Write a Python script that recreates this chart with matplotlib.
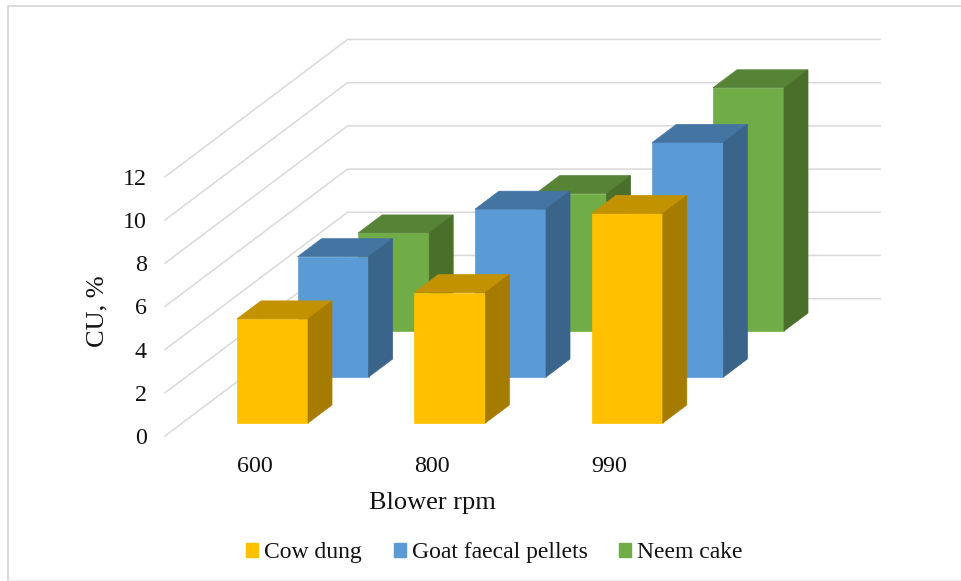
import matplotlib
matplotlib.use('Agg')
import matplotlib.pyplot as plt
from matplotlib.patches import Patch

categories = ['600', '800', '990']
series_names = ['Cow dung', 'Goat faecal pellets', 'Neem cake']
cow_dung = [4.82, 6.04, 9.70]
goat_pellets = [5.57, 7.77, 10.86]
neem_cake = [4.54, 6.36, 11.26]
y_ticks = [0, 2, 4, 6, 8, 10, 12]

front_colors = ['#FFC000', '#5B9BD5', '#70AD47']
top_colors = ['#C39200', '#4474A1', '#568336']
side_colors = ['#A57C00', '#3A6489', '#4A6F2B']
grid_color = '#D9D9D9'

plt.rcParams['font.family'] = ['Liberation Serif', 'DejaVu Serif']

# fake 3d, everything in image pixels
unit = 21.6
floor_front = (165, 436)
floor_back = (347.5, 298.7)
grid_right = 880
bar_w = 71
depth_x = 24
depth_y = 18


def bar3d(ax, x, base, val, s):
    top = base - val * unit
    ax.fill([x, x + bar_w, x + bar_w, x], [base, base, top, top], color=front_colors[s], lw=0.5, zorder=3 + s * -0.1)
    ax.fill([x, x + depth_x, x + bar_w + depth_x, x + bar_w], [top, top - depth_y, top - depth_y, top],
            color=top_colors[s], lw=0.5, zorder=3 + s * -0.1)
    ax.fill([x + bar_w, x + bar_w + depth_x, x + bar_w + depth_x, x + bar_w],
            [base, base - depth_y, top - depth_y, top], color=side_colors[s], lw=0.5, zorder=3 + s * -0.1)


fig = plt.figure(figsize=(9.62, 5.81), dpi=100)
ax = fig.add_axes([0, 0, 1, 1])
ax.set_xlim(0, 962)
ax.set_ylim(581, 0)
ax.axis('off')

# frame of the pasted picture, no right side
ax.plot([962, 8, 8], [5.5, 5.5, 581], color='#DADADA', lw=1.4, zorder=1)
ax.plot([8, 962], [580, 580], color='#EEEEEE', lw=1, zorder=1)

for t in y_ticks:
    h = t * unit
    ax.plot([floor_front[0], floor_back[0], grid_right],
            [floor_front[1] - h, floor_back[1] - h, floor_back[1] - h],
            color=grid_color, lw=1.1, zorder=1.5)
    ax.text(147, floor_front[1] - h + 2.5, str(t), ha='right', va='center', fontsize=17.3, color='#111111')

values = [cow_dung, goat_pellets, neem_cake]
for s in [2, 1, 0]:
    for i in range(len(categories)):
        bar3d(ax, 237 + 177.4 * i + 60.6 * s, 423 - 46 * s, values[s][i], s)

for i, c in enumerate(categories):
    ax.text(255 + 177 * i, 466.5, c, ha='center', va='center', fontsize=17.3, color='#111111')

ax.text(432, 503.5, 'Blower rpm', ha='center', va='center', fontsize=19, color='#111111')
ax.text(97, 311, 'CU, %', ha='center', va='center', rotation=90, fontsize=19, color='#111111')

handles = [Patch(color=front_colors[k], label=series_names[k]) for k in range(3)]
ax.legend(handles=handles, ncol=3, loc='center', bbox_to_anchor=(0.514, 0.0485), frameon=False, fontsize=17,
          handlelength=0.5, handleheight=0.5, handletextpad=0.25, columnspacing=1.35, labelcolor='#111111')

fig.savefig('out.png', dpi=100)
